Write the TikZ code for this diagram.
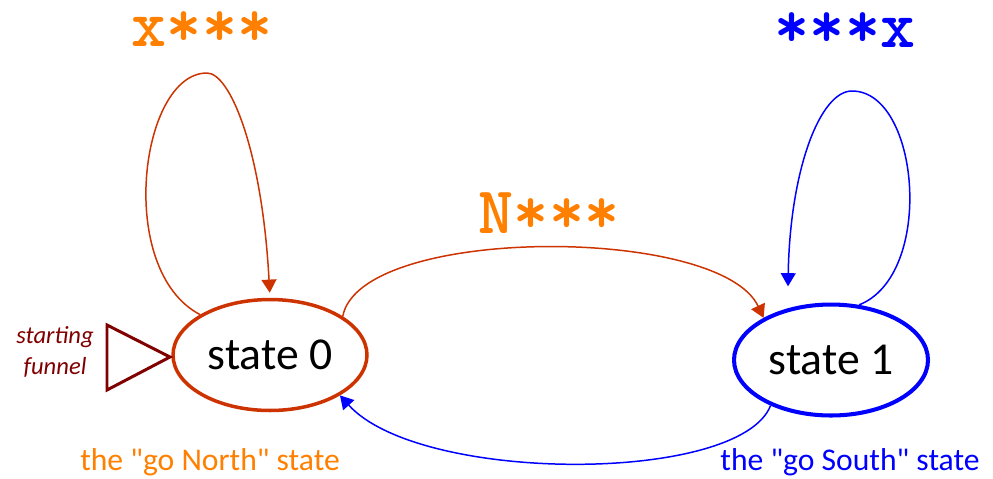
\documentclass[tikz,border=0pt]{standalone}
\usepackage{fontspec}
\setmainfont{Carlito}
\usepackage{tikz}
\usetikzlibrary{arrows.meta, shapes.geometric}

\definecolor{northred}{HTML}{CC3300}
\definecolor{northorange}{HTML}{FF8000}
\definecolor{southblue}{HTML}{0000FF}
\definecolor{funnelred}{HTML}{800000}

\begin{document}
\begin{tikzpicture}[
    x=0.02cm, y=-0.02cm,
    state/.style={
        ellipse, draw=#1, line width=2pt,
        minimum width=3.88cm, minimum height=2.22cm, inner sep=0pt,
        font=\fontsize{26}{30}\selectfont
    },
    move/.style={draw=#1, line width=0.85pt, -{Triangle[length=7.5pt, width=8.5pt]}},
    rule/.style={text=#1, anchor=base, inner sep=0pt, font=\ttfamily\bfseries\fontsize{38}{40}\selectfont},
    note/.style={text=#1, anchor=base, font=\fontsize{18}{22}\selectfont}
]
\useasboundingbox (0,0) rectangle (993,478);

% States
\node[state=northred] (s0) at (270,355) {state 0};
\node[state=southblue, line width=2.3pt] (s1) at (831,360) {state 1};

% Starting funnel
\draw[funnelred, line width=1.7pt] (107,325) -- (170,357) -- (107,390) -- cycle;
\node[text=funnelred, align=center, font=\itshape\fontsize{14}{17.5}\selectfont] (start) at (55,352) {starting\\funnel};

% State notes
\node[note=northorange] (north) at (210,470) {the \textquotedbl go North\textquotedbl{} state};
\node[note=southblue] (south) at (850,470) {the \textquotedbl go South\textquotedbl{} state};

% Rule labels
\node[rule=northorange] (stay0) at (202,46) {x***};
\node[rule=northorange] (go1) at (549,233) {N***};
\node[rule=southblue] (stay1) at (845,47) {***x};

% Transitions
\draw[move=northred, shorten >=0.1cm] (s0.150) .. controls (115,270) and (140,73) .. (207,73)
    .. controls (230,73) and (262,150) .. (s0.90);
\draw[move=northred] (s0.28) .. controls (360,225) and (720,225) .. (s1.148);
\draw[move=southblue] (s1.217) .. controls (740,484) and (420,484) .. (s0.330);
\draw[move=southblue, shorten >=0.44cm] (s1.63) .. controls (935,275) and (920,91) .. (852,91)
    .. controls (820,91) and (790,170) .. (s1.130);

\end{tikzpicture}
\end{document}
